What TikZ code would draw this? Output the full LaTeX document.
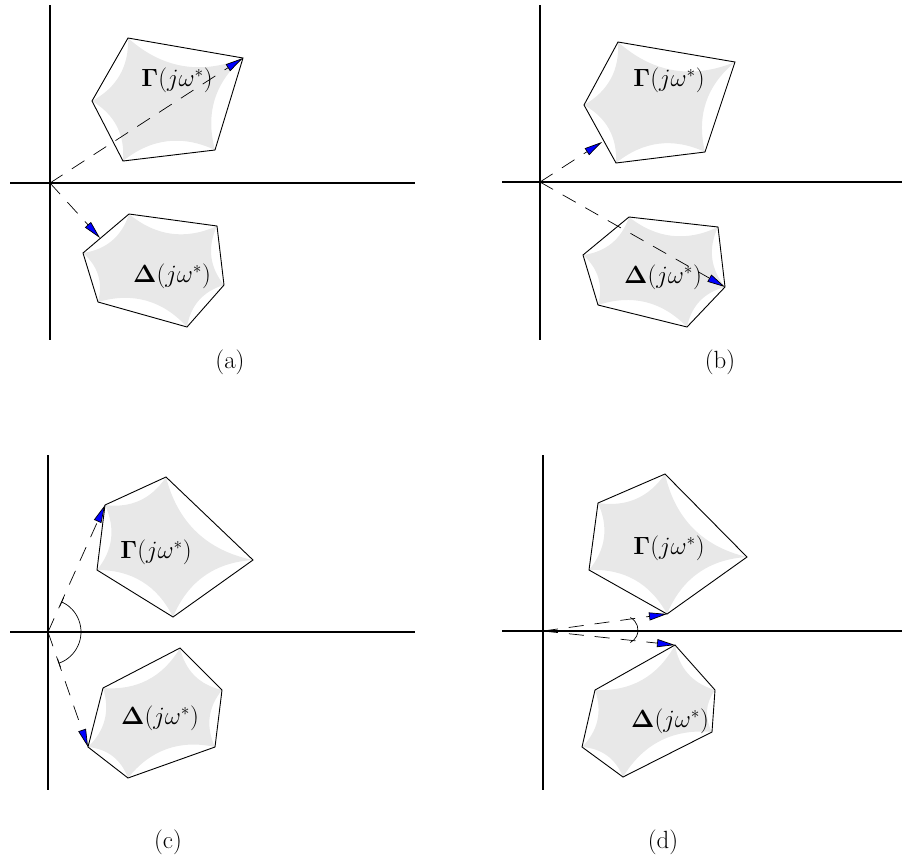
\documentclass[tikz,border=0pt]{standalone}
\usepackage{amsmath}
\usetikzlibrary{arrows.meta}

\begin{document}
\begin{tikzpicture}[x=1pt, y=-1pt,
    axis/.style={line width=1.9pt},
    region/.style={draw, line width=0.9pt},
    hull/.style={fill=black!9},
    vec/.style={line width=0.7pt, dash pattern=on 15pt off 11pt, -{Triangle[length=18pt,width=8pt,fill=blue]}},
    ang/.style={line width=0.7pt},
    lbl/.style={font=\fontsize{27}{32}\selectfont},
    sublbl/.style={font=\Huge}
]
\useasboundingbox (0,0) rectangle (902,863);

% (a)
\coordinate (oa) at (50,183);
\draw[axis] (50,5) -- (50,340);
\draw[axis] (10,183) -- (415,183);
\path (128,38) coordinate (ga1) (243,58) coordinate (ga2) (215,150) coordinate (ga3)
      (123,161) coordinate (ga4) (92,101) coordinate (ga5);
\path (129,214) coordinate (da1) (217,226) coordinate (da2) (224,285) coordinate (da3)
      (187,327) coordinate (da4) (98,302) coordinate (da5) (83,253) coordinate (da6);
\coordinate (pa) at (100,238);
\fill[hull] (ga1) to[bend right=32] (ga2) to[bend right=32] (ga3) to[bend right=32] (ga4)
      to[bend right=32] (ga5) to[bend right=32] (ga1);
\fill[hull] (da1) to[bend right=32] (da2) to[bend right=32] (da3) to[bend right=32] (da4)
      to[bend right=32] (da5) to[bend right=32] (da6) to[bend right=32] (da1);
\draw[region] (ga1) -- (ga2) -- (ga3) -- (ga4) -- (ga5) -- cycle;
\draw[region] (da1) -- (da2) -- (da3) -- (da4) -- (da5) -- (da6) -- cycle;
\draw[vec] (oa) -- (ga2);
\draw[vec] (oa) -- (pa);
\node[lbl] (gla) at (177,80) {$\mathbf{\Gamma}(j\omega^*)$};
\node[lbl] (dla) at (172,276) {$\mathbf{\Delta}(j\omega^*)$};
\node[sublbl] (capa) at (230,362) {(a)};

% (b)
\coordinate (ob) at (540,182);
\draw[axis] (540,5) -- (540,340);
\draw[axis] (502,182) -- (902,182);
\path (618,42) coordinate (gb1) (735,62) coordinate (gb2) (705,152) coordinate (gb3)
      (616,163) coordinate (gb4) (584,105) coordinate (gb5);
\path (629,217) coordinate (db1) (718,227) coordinate (db2) (725,287) coordinate (db3)
      (687,327) coordinate (db4) (598,305) coordinate (db5) (583,255) coordinate (db6);
\coordinate (pb) at (602,142);
\fill[hull] (gb1) to[bend right=32] (gb2) to[bend right=32] (gb3) to[bend right=32] (gb4)
      to[bend right=32] (gb5) to[bend right=32] (gb1);
\fill[hull] (db1) to[bend right=32] (db2) to[bend right=32] (db3) to[bend right=32] (db4)
      to[bend right=32] (db5) to[bend right=32] (db6) to[bend right=32] (db1);
\draw[region] (gb1) -- (gb2) -- (gb3) -- (gb4) -- (gb5) -- cycle;
\draw[region] (db1) -- (db2) -- (db3) -- (db4) -- (db5) -- (db6) -- cycle;
\draw[vec] (ob) -- (pb);
\draw[vec] (ob) -- (db3);
\node[lbl] (glb) at (669,80) {$\mathbf{\Gamma}(j\omega^*)$};
\node[lbl] (dlb) at (663,277) {$\mathbf{\Delta}(j\omega^*)$};
\node[sublbl] (capb) at (720,362) {(b)};

% (c)
\coordinate (oc) at (48,632);
\draw[axis] (48,455) -- (48,790);
\draw[axis] (10,632) -- (415,632);
\path (105,505) coordinate (gc1) (166,477) coordinate (gc2) (253,560) coordinate (gc3)
      (173,617) coordinate (gc4) (97,570) coordinate (gc5);
\path (180,648) coordinate (dc1) (222,690) coordinate (dc2) (215,747) coordinate (dc3)
      (128,778) coordinate (dc4) (88,747) coordinate (dc5) (103,688) coordinate (dc6);
\fill[hull] (gc1) to[bend right=32] (gc2) to[bend right=32] (gc3) to[bend right=32] (gc4)
      to[bend right=32] (gc5) to[bend right=32] (gc1);
\fill[hull] (dc1) to[bend right=32] (dc2) to[bend right=32] (dc3) to[bend right=32] (dc4)
      to[bend right=32] (dc5) to[bend right=32] (dc6) to[bend right=32] (dc1);
\draw[region] (gc1) -- (gc2) -- (gc3) -- (gc4) -- (gc5) -- cycle;
\draw[region] (dc1) -- (dc2) -- (dc3) -- (dc4) -- (dc5) -- (dc6) -- cycle;
\draw[vec] (oc) -- (gc1);
\draw[vec] (oc) -- (dc5);
\draw[ang, {Bar[width=9pt]}-{Bar[width=9pt]}] (oc) ++(-66:33) arc[start angle=-66, end angle=71, radius=33];
\node[lbl] (glc) at (156,552) {$\mathbf{\Gamma}(j\omega^*)$};
\node[lbl] (dlc) at (160,718) {$\mathbf{\Delta}(j\omega^*)$};
\node[sublbl] (capc) at (168,842) {(c)};

% (d)
\coordinate (od) at (543,631);
\draw[axis] (543,455) -- (543,790);
\draw[axis] (502,631) -- (902,631);
\path (598,503) coordinate (gd1) (665,474) coordinate (gd2) (747,557) coordinate (gd3)
      (667,614) coordinate (gd4) (589,570) coordinate (gd5);
\path (675,645) coordinate (dd1) (715,690) coordinate (dd2) (712,732) coordinate (dd3)
      (623,777) coordinate (dd4) (582,747) coordinate (dd5) (595,690) coordinate (dd6);
\fill[hull] (gd1) to[bend right=32] (gd2) to[bend right=32] (gd3) to[bend right=32] (gd4)
      to[bend right=32] (gd5) to[bend right=32] (gd1);
\fill[hull] (dd1) to[bend right=32] (dd2) to[bend right=32] (dd3) to[bend right=32] (dd4)
      to[bend right=32] (dd5) to[bend right=32] (dd6) to[bend right=32] (dd1);
\draw[region] (gd1) -- (gd2) -- (gd3) -- (gd4) -- (gd5) -- cycle;
\draw[region] (dd1) -- (dd2) -- (dd3) -- (dd4) -- (dd5) -- (dd6) -- cycle;
\draw[vec] (od) -- (gd4);
\draw[vec] (od) -- (dd1);
\draw[ang] (624,630) ++(-63:14) arc[start angle=-63, end angle=63, radius=14];
\node[lbl] (gld) at (669,548) {$\mathbf{\Gamma}(j\omega^*)$};
\node[lbl] (dld) at (670,721) {$\mathbf{\Delta}(j\omega^*)$};
\node[sublbl] (capd) at (663,842) {(d)};
\end{tikzpicture}
\end{document}
